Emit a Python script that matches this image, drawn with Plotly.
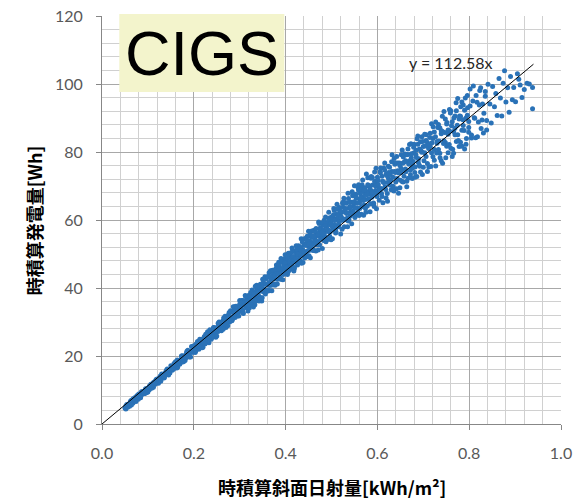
import plotly.graph_objects as go

# Hourly tilted-plane irradiation [kWh/m2] vs hourly generated energy [Wh], CIGS module
irr_low = [
    0.050, 0.052, 0.054, 0.056, 0.058, 0.060, 0.062, 0.064, 0.066, 0.068,
    0.070, 0.072, 0.074, 0.076, 0.078, 0.080, 0.082, 0.084, 0.086, 0.088,
    0.090, 0.093, 0.095, 0.098, 0.100, 0.103, 0.105, 0.108, 0.110, 0.113,
    0.115, 0.118, 0.120, 0.123, 0.125, 0.128, 0.130, 0.133, 0.135, 0.138,
    0.140, 0.143, 0.145, 0.148, 0.150, 0.153, 0.155, 0.158, 0.160, 0.163,
    0.165, 0.168, 0.170, 0.173, 0.175, 0.178, 0.180, 0.183, 0.185, 0.188,
    0.190, 0.193, 0.195, 0.198, 0.200, 0.203, 0.205, 0.208, 0.210, 0.213,
    0.215, 0.218, 0.220, 0.223, 0.225, 0.228, 0.230, 0.233, 0.235, 0.238,
    0.240, 0.243, 0.245, 0.248, 0.250, 0.253, 0.255, 0.258, 0.260, 0.263,
    0.265, 0.268, 0.270, 0.273, 0.275, 0.278, 0.280, 0.285, 0.290, 0.295,
]
gen_low = [
    4.7, 4.4, 5.7, 5.2, 5.9, 5.2, 6.7, 6.2, 6.9, 6.3,
    7.1, 7.8, 6.6, 7.7, 8.4, 7.7, 8.6, 7.7, 9.5, 8.8,
    9.4, 9.0, 10.4, 10.0, 9.4, 11.1, 10.6, 11.8, 10.8, 11.9,
    11.6, 13.1, 12.5, 12.0, 13.6, 13.2, 14.7, 14.1, 13.5, 15.1,
    14.7, 15.8, 14.4, 16.0, 17.1, 15.8, 16.9, 16.6, 18.3, 17.5,
    16.8, 18.5, 17.8, 20.0, 18.9, 18.4, 20.1, 19.5, 21.4, 20.6,
    19.7, 21.4, 22.8, 21.1, 22.0, 21.0, 23.5, 22.6, 22.2, 24.9,
    24.0, 22.4, 23.8, 25.7, 23.7, 25.3, 27.1, 23.9, 25.6, 27.1,
    25.5, 28.4, 27.0, 25.5, 28.4, 27.3, 30.0, 28.8, 27.4, 30.3,
    29.0, 31.7, 28.4, 30.5, 31.9, 30.0, 33.3, 31.6, 33.3, 31.8,
]

irr_low_b = [
    0.061, 0.064, 0.067, 0.070, 0.073, 0.076, 0.079, 0.082, 0.085, 0.088,
    0.091, 0.094, 0.097, 0.100, 0.103, 0.106, 0.109, 0.112, 0.115, 0.118,
    0.121, 0.124, 0.127, 0.130, 0.133, 0.136, 0.139, 0.142, 0.145, 0.148,
    0.151, 0.154, 0.157, 0.160, 0.163, 0.166, 0.169, 0.172, 0.175, 0.178,
    0.181, 0.184, 0.187, 0.190, 0.193, 0.196, 0.199, 0.202, 0.205, 0.208,
    0.211, 0.214, 0.217, 0.220, 0.223, 0.226, 0.229, 0.232, 0.235, 0.238,
    0.241, 0.244, 0.247, 0.250, 0.253, 0.256, 0.259, 0.262, 0.265, 0.268,
    0.271, 0.274, 0.277, 0.280, 0.283, 0.286, 0.289, 0.292, 0.295, 0.298,
]
gen_low_b = [
    6.0, 7.0, 6.1, 7.4, 7.1, 8.3, 7.3, 8.4, 8.3, 9.5,
    9.0, 10.0, 9.2, 10.4, 10.1, 11.6, 11.3, 10.8, 12.5, 12.0,
    12.9, 12.5, 14.1, 13.4, 14.6, 13.7, 14.9, 16.2, 15.3, 15.0,
    16.5, 16.1, 17.8, 17.1, 16.5, 18.5, 17.6, 18.8, 20.1, 19.0,
    18.7, 20.3, 21.7, 20.4, 19.7, 21.5, 22.7, 21.3, 22.6, 24.3,
    22.0, 23.5, 24.9, 22.6, 24.2, 26.4, 24.3, 25.8, 27.7, 24.9,
    26.6, 28.1, 26.5, 25.9, 29.6, 28.1, 27.6, 29.9, 31.2, 29.1,
    30.7, 28.9, 32.8, 30.9, 30.4, 33.0, 34.5, 31.9, 33.6, 33.3,
]

irr_low_c = [
    0.052, 0.056, 0.060, 0.064, 0.068, 0.072, 0.076, 0.080, 0.084, 0.088,
    0.092, 0.096, 0.100, 0.104, 0.108, 0.112, 0.116, 0.120, 0.124, 0.128,
    0.132, 0.136, 0.140, 0.144, 0.148, 0.152, 0.156, 0.160, 0.164, 0.168,
    0.172, 0.176, 0.180, 0.184, 0.188, 0.192, 0.196, 0.200, 0.204, 0.208,
    0.212, 0.216, 0.220, 0.224, 0.228, 0.232, 0.236, 0.240, 0.244, 0.248,
    0.252, 0.256, 0.260, 0.264, 0.268, 0.272, 0.276, 0.280, 0.284, 0.288,
    0.292, 0.296, 0.300,
]
gen_low_c = [
    5.3, 4.9, 5.9, 5.6, 7.4, 6.9, 7.9, 8.8, 8.0, 9.3,
    9.0, 10.3, 10.1, 10.9, 10.5, 12.2, 12.0, 13.2, 13.1, 12.6,
    14.3, 14.1, 15.7, 14.7, 15.9, 16.8, 16.2, 17.4, 18.8, 17.8,
    19.0, 18.2, 19.6, 20.9, 20.0, 21.3, 21.1, 23.0, 21.4, 23.0,
    22.8, 24.7, 24.3, 23.5, 26.3, 25.2, 26.5, 25.6, 28.3, 27.3,
    27.2, 29.1, 28.8, 27.9, 30.8, 29.9, 32.1, 31.3, 30.7, 33.3,
    33.0, 32.5, 35.2,
]

irr_mid = [
    0.282, 0.284, 0.286, 0.288, 0.290, 0.292, 0.294, 0.296, 0.298, 0.300,
    0.302, 0.304, 0.306, 0.308, 0.310, 0.312, 0.314, 0.316, 0.318, 0.320,
    0.322, 0.324, 0.326, 0.328, 0.330, 0.332, 0.334, 0.336, 0.338, 0.340,
    0.342, 0.344, 0.346, 0.348, 0.350, 0.352, 0.354, 0.356, 0.358, 0.360,
    0.362, 0.364, 0.366, 0.368, 0.370, 0.372, 0.374, 0.376, 0.378, 0.380,
    0.382, 0.384, 0.386, 0.388, 0.390, 0.392, 0.394, 0.396, 0.398, 0.400,
    0.402, 0.404, 0.406, 0.408, 0.410, 0.412, 0.414, 0.416, 0.418, 0.420,
    0.422, 0.424, 0.426, 0.428, 0.430, 0.432, 0.434, 0.436, 0.438, 0.440,
    0.442, 0.444, 0.446, 0.448, 0.450, 0.452, 0.454, 0.456, 0.458, 0.460,
    0.462, 0.464, 0.466, 0.468, 0.470, 0.472, 0.474, 0.476, 0.478, 0.480,
    0.482, 0.484, 0.486, 0.488, 0.490, 0.492, 0.494, 0.496, 0.498, 0.500,
    0.502, 0.504, 0.506, 0.508, 0.510, 0.512, 0.514, 0.516, 0.518, 0.520,
    0.522, 0.524, 0.526, 0.528, 0.530, 0.532, 0.534, 0.536, 0.538, 0.540,
    0.542, 0.544, 0.546, 0.548, 0.550, 0.552, 0.554, 0.556, 0.558, 0.560,
    0.562, 0.564, 0.566, 0.568, 0.570, 0.572, 0.574, 0.576, 0.578, 0.580,
    0.582, 0.584, 0.586, 0.588, 0.590, 0.592, 0.594, 0.596, 0.598, 0.600,
]
gen_mid = [
    33.0, 31.0, 34.5, 32.7, 31.3, 34.6, 32.7, 34.2, 31.8, 36.3,
    34.5, 33.1, 36.3, 32.5, 35.1, 37.8, 34.7, 36.8, 33.2, 36.8,
    36.0, 38.7, 35.1, 37.9, 34.4, 37.8, 40.5, 36.8, 39.6, 38.1,
    36.2, 40.6, 39.1, 36.2, 42.6, 38.8, 41.2, 38.2, 42.7, 41.1,
    39.5, 44.5, 40.8, 43.0, 39.2, 42.8, 44.9, 41.2, 42.8, 46.8,
    41.2, 44.6, 46.5, 43.1, 48.7, 44.8, 42.4, 46.8, 48.6, 44.8,
    47.1, 44.0, 50.2, 46.3, 49.1, 45.5, 51.8, 48.0, 45.0, 50.7,
    47.6, 50.1, 46.8, 52.4, 49.4, 48.1, 54.5, 51.1, 47.5, 52.6,
    50.4, 54.6, 49.2, 53.0, 56.7, 51.1, 48.9, 55.0, 53.1, 51.4,
    57.0, 54.3, 50.9, 56.0, 53.7, 59.4, 52.7, 57.7, 55.1, 51.6,
    57.1, 59.9, 55.0, 53.6, 59.1, 57.1, 62.3, 55.2, 58.6, 60.9,
    54.5, 57.8, 62.8, 60.2, 56.5, 64.6, 59.9, 58.3, 62.7, 55.9,
    62.3, 60.0, 65.4, 58.0, 62.3, 64.9, 60.5, 67.9, 60.1, 64.0,
    62.5, 58.9, 67.1, 64.0, 70.1, 61.3, 66.4, 63.5, 69.4, 61.3,
    66.2, 68.7, 63.9, 71.8, 61.4, 68.0, 66.0, 73.5, 64.1, 70.1,
    67.6, 62.4, 72.3, 66.7, 70.3, 64.8, 74.1, 68.7, 63.3, 72.6,
]

irr_mid_b = [
    0.301, 0.303, 0.305, 0.307, 0.309, 0.311, 0.313, 0.315, 0.317, 0.319,
    0.321, 0.323, 0.325, 0.327, 0.329, 0.331, 0.333, 0.335, 0.337, 0.339,
    0.341, 0.343, 0.345, 0.347, 0.349, 0.351, 0.353, 0.355, 0.357, 0.359,
    0.361, 0.363, 0.365, 0.367, 0.369, 0.371, 0.373, 0.375, 0.377, 0.379,
    0.381, 0.383, 0.385, 0.387, 0.389, 0.391, 0.393, 0.395, 0.397, 0.399,
    0.401, 0.403, 0.405, 0.407, 0.409, 0.411, 0.413, 0.415, 0.417, 0.419,
    0.421, 0.423, 0.425, 0.427, 0.429, 0.431, 0.433, 0.435, 0.437, 0.439,
    0.441, 0.443, 0.445, 0.447, 0.449, 0.451, 0.453, 0.455, 0.457, 0.459,
    0.461, 0.463, 0.465, 0.467, 0.469, 0.471, 0.473, 0.475, 0.477, 0.479,
    0.481, 0.483, 0.485, 0.487, 0.489, 0.491, 0.493, 0.495, 0.497, 0.499,
    0.501, 0.503, 0.505, 0.507, 0.509, 0.511, 0.513, 0.515, 0.517, 0.519,
    0.521, 0.523, 0.525, 0.527, 0.529, 0.531, 0.533, 0.535, 0.537, 0.539,
    0.541, 0.543, 0.545, 0.547, 0.549, 0.551, 0.553, 0.555, 0.557, 0.559,
    0.561, 0.563, 0.565, 0.567, 0.569, 0.571, 0.573, 0.575, 0.577, 0.579,
    0.581, 0.583, 0.585, 0.587, 0.589, 0.591, 0.593, 0.595, 0.597, 0.599,
]
gen_mid_b = [
    34.8, 33.5, 36.3, 32.9, 36.2, 34.9, 37.6, 34.2, 36.2, 37.8,
    34.1, 37.5, 36.1, 39.4, 35.8, 38.9, 35.1, 38.3, 40.8, 37.4,
    39.7, 37.0, 41.1, 39.5, 37.1, 41.3, 39.4, 43.3, 41.1, 39.0,
    43.2, 41.1, 39.2, 45.1, 42.5, 40.9, 44.0, 42.7, 40.8, 45.7,
    44.4, 42.7, 47.6, 45.8, 42.6, 44.8, 47.6, 44.0, 46.4, 49.8,
    45.4, 48.0, 44.6, 49.5, 47.5, 46.0, 48.8, 50.7, 47.7, 45.7,
    49.3, 52.4, 48.3, 50.8, 47.5, 52.1, 50.0, 47.3, 51.3, 54.4,
    50.7, 52.9, 49.9, 55.2, 52.4, 49.5, 53.8, 51.8, 56.8, 54.9,
    51.0, 53.7, 56.4, 52.7, 55.3, 51.2, 59.0, 56.8, 54.6, 55.9,
    58.6, 54.0, 56.5, 60.9, 58.1, 54.3, 56.6, 60.6, 58.7, 54.2,
    57.0, 60.4, 63.4, 58.7, 56.2, 61.7, 60.1, 58.0, 63.7, 61.5,
    59.9, 57.3, 63.8, 66.4, 60.1, 63.4, 61.9, 58.0, 66.3, 63.5,
    61.2, 65.2, 68.3, 62.6, 65.0, 60.7, 67.6, 65.0, 62.3, 70.4,
    65.0, 67.7, 61.7, 69.8, 66.8, 64.4, 69.5, 62.3, 68.4, 72.4,
    66.2, 70.1, 64.8, 68.5, 72.5, 67.7, 64.0, 70.7, 75.2, 66.9,
]

irr_mid_c = [
    0.3015, 0.3040, 0.3065, 0.3090, 0.3115, 0.3140, 0.3165, 0.3190, 0.3215, 0.3240,
    0.3265, 0.3290, 0.3315, 0.3340, 0.3365, 0.3390, 0.3415, 0.3440, 0.3465, 0.3490,
    0.3515, 0.3540, 0.3565, 0.3590, 0.3615, 0.3640, 0.3665, 0.3690, 0.3715, 0.3740,
    0.3765, 0.3790, 0.3815, 0.3840, 0.3865, 0.3890, 0.3915, 0.3940, 0.3965, 0.3990,
    0.4015, 0.4040, 0.4065, 0.4090, 0.4115, 0.4140, 0.4165, 0.4190, 0.4215, 0.4240,
    0.4265, 0.4290, 0.4315, 0.4340, 0.4365, 0.4390, 0.4415, 0.4440, 0.4465, 0.4490,
    0.4515, 0.4540, 0.4565, 0.4590, 0.4615, 0.4640, 0.4665, 0.4690, 0.4715, 0.4740,
    0.4765, 0.4790, 0.4815, 0.4840, 0.4865, 0.4890, 0.4915, 0.4940, 0.4965, 0.4990,
    0.5015, 0.5040, 0.5065, 0.5090, 0.5115, 0.5140, 0.5165, 0.5190, 0.5215, 0.5240,
    0.5265, 0.5290, 0.5315, 0.5340, 0.5365, 0.5390, 0.5415, 0.5440, 0.5465, 0.5490,
    0.5515, 0.5540, 0.5565, 0.5590, 0.5615, 0.5640, 0.5665, 0.5690, 0.5715, 0.5740,
    0.5765, 0.5790, 0.5815, 0.5840, 0.5865, 0.5890, 0.5915, 0.5940, 0.5965, 0.5990,
    0.6015, 0.6040, 0.6065, 0.6090, 0.6115, 0.6140, 0.6165, 0.6190, 0.6215, 0.6240,
    0.6265, 0.6290, 0.6315, 0.6340, 0.6365, 0.6390, 0.6415, 0.6440, 0.6465, 0.6490,
]
gen_mid_c = [
    34.2, 35.8, 33.6, 35.6, 34.9, 37.5, 36.1, 34.9, 37.5, 36.6,
    38.7, 36.4, 38.2, 36.1, 40.2, 38.6, 37.6, 40.2, 37.1, 40.0,
    41.6, 39.6, 41.2, 39.2, 43.4, 41.6, 40.8, 43.3, 45.2, 41.1,
    43.6, 45.5, 42.6, 44.1, 45.5, 42.7, 47.7, 45.8, 44.8, 47.5,
    46.1, 48.6, 45.1, 47.7, 50.4, 46.9, 49.3, 46.0, 48.5, 51.4,
    49.9, 48.0, 51.5, 49.6, 53.5, 50.9, 48.8, 52.6, 54.1, 51.0,
    53.0, 55.8, 52.4, 51.1, 55.3, 54.0, 57.5, 53.0, 55.8, 57.4,
    54.4, 56.3, 59.3, 55.8, 58.3, 54.3, 57.3, 60.0, 56.5, 59.2,
    58.1, 61.5, 59.9, 57.4, 63.2, 61.2, 59.4, 62.5, 60.9, 65.0,
    60.3, 63.1, 65.1, 62.1, 59.7, 65.3, 63.8, 61.7, 67.7, 65.4,
    63.5, 66.6, 65.0, 68.7, 63.4, 66.5, 70.4, 65.7, 68.7, 63.4,
    67.4, 70.4, 66.1, 69.2, 72.8, 68.2, 65.0, 71.4, 69.9, 67.7,
    71.6, 69.2, 73.9, 67.8, 71.4, 75.3, 69.8, 73.5, 67.8, 72.3,
    75.5, 71.7, 74.3, 69.9, 78.1, 74.0, 69.2, 76.8, 73.8, 76.0,
]

irr_high = [
    0.602, 0.604, 0.606, 0.608, 0.610, 0.612, 0.614, 0.616, 0.618, 0.620,
    0.622, 0.624, 0.626, 0.628, 0.630, 0.632, 0.634, 0.636, 0.638, 0.640,
    0.642, 0.644, 0.646, 0.648, 0.650, 0.652, 0.654, 0.656, 0.658, 0.660,
    0.662, 0.664, 0.666, 0.668, 0.670, 0.672, 0.674, 0.676, 0.678, 0.680,
    0.682, 0.684, 0.686, 0.688, 0.690, 0.692, 0.694, 0.696, 0.698, 0.700,
    0.703, 0.706, 0.709, 0.712, 0.715, 0.718, 0.721, 0.724, 0.727, 0.730,
    0.733, 0.736, 0.739, 0.742, 0.745, 0.748, 0.751, 0.754, 0.757, 0.760,
    0.763, 0.766, 0.769, 0.772, 0.775, 0.778, 0.781, 0.784, 0.787, 0.790,
    0.793, 0.796, 0.799,
]
gen_high = [
    70.4, 65.8, 74.2, 69.3, 72.9, 65.1, 71.0, 76.8, 69.0, 73.1,
    65.5, 75.8, 70.7, 73.4, 68.9, 79.2, 72.6, 68.5, 76.4, 71.2,
    78.7, 74.5, 67.9, 76.8, 71.7, 74.0, 80.6, 71.2, 77.0, 79.4,
    74.2, 69.8, 79.3, 76.7, 82.2, 73.3, 78.3, 72.2, 77.2, 82.3,
    75.6, 80.5, 72.8, 84.7, 78.0, 75.8, 83.0, 80.2, 73.4, 81.6,
    85.2, 78.7, 82.8, 75.6, 81.6, 88.3, 78.6, 85.9, 75.9, 82.6,
    88.1, 79.6, 85.4, 76.7, 91.9, 82.8, 88.2, 79.8, 86.2, 92.1,
    78.7, 86.0, 90.6, 83.1, 95.7, 81.6, 90.5, 86.4, 93.8, 80.9,
    90.0, 96.6, 85.8,
]

irr_high_b = [
    0.601, 0.604, 0.607, 0.610, 0.613, 0.616, 0.619, 0.622, 0.625, 0.628,
    0.631, 0.634, 0.637, 0.640, 0.643, 0.646, 0.649, 0.652, 0.655, 0.658,
    0.661, 0.664, 0.667, 0.670, 0.673, 0.676, 0.679, 0.682, 0.685, 0.688,
    0.691, 0.694, 0.697, 0.700, 0.703, 0.706, 0.709, 0.712, 0.715, 0.718,
    0.721, 0.724, 0.727, 0.730, 0.733, 0.736, 0.739, 0.742, 0.745, 0.748,
    0.751, 0.754, 0.757, 0.760, 0.763, 0.766, 0.769, 0.772, 0.775, 0.778,
    0.781, 0.784, 0.787, 0.790, 0.793, 0.796, 0.799, 0.802, 0.805, 0.808,
    0.811, 0.814, 0.817, 0.820, 0.823, 0.826, 0.829, 0.832, 0.835, 0.838,
]
gen_high_b = [
    71.7, 68.5, 75.3, 66.9, 71.2, 74.7, 66.5, 71.0, 74.0, 70.2,
    77.1, 69.0, 74.3, 76.8, 72.2, 74.3, 69.5, 79.2, 76.7, 72.9,
    75.0, 79.2, 72.3, 77.4, 82.4, 75.2, 79.7, 72.6, 78.4, 82.3,
    76.2, 80.5, 84.5, 75.5, 79.8, 83.4, 74.3, 82.1, 85.5, 79.8,
    84.0, 77.6, 88.8, 83.1, 80.7, 87.1, 77.4, 86.0, 83.3, 89.7,
    81.7, 86.5, 92.5, 81.1, 88.9, 79.6, 87.0, 92.1, 85.1, 89.7,
    82.9, 94.7, 87.8, 92.3, 82.3, 90.8, 87.2, 98.5, 85.0, 95.0,
    90.1, 84.2, 94.6, 88.8, 98.1, 86.9, 94.1, 91.4, 97.8, 86.5,
]

irr_high_c = [
    0.6515, 0.6540, 0.6565, 0.6590, 0.6615, 0.6640, 0.6665, 0.6690, 0.6715, 0.6740,
    0.6765, 0.6790, 0.6815, 0.6840, 0.6865, 0.6890, 0.6915, 0.6940, 0.6965, 0.6990,
    0.7015, 0.7040, 0.7065, 0.7090, 0.7115, 0.7140, 0.7165, 0.7190, 0.7215, 0.7240,
    0.7265, 0.7290, 0.7315, 0.7340, 0.7365, 0.7390, 0.7415, 0.7440, 0.7465, 0.7490,
    0.7515, 0.7540, 0.7565, 0.7590, 0.7615, 0.7640, 0.7665, 0.7690, 0.7715, 0.7740,
    0.7765, 0.7790, 0.7815, 0.7840, 0.7865, 0.7890, 0.7915, 0.7940, 0.7965, 0.7990,
]
gen_high_c = [
    75.2, 71.3, 78.5, 74.6, 77.4, 71.4, 80.9, 76.4, 74.6, 79.5,
    76.4, 81.4, 74.0, 79.2, 83.9, 77.0, 80.9, 74.1, 79.9, 83.1,
    77.4, 81.8, 85.1, 76.6, 81.0, 84.3, 75.7, 82.7, 87.4, 80.7,
    84.5, 79.7, 87.2, 83.2, 78.3, 86.3, 90.5, 82.5, 85.7, 78.3,
    88.7, 85.2, 82.2, 91.5, 87.7, 80.8, 90.0, 85.1, 94.5, 87.9,
    83.4, 90.6, 93.3, 81.7, 89.5, 86.3, 95.9, 84.0, 93.0, 89.0,
]

irr_peak = [
    0.802, 0.805, 0.809, 0.812, 0.815, 0.818, 0.822, 0.825, 0.828, 0.831,
    0.835, 0.838, 0.841, 0.845, 0.848, 0.851, 0.855, 0.858, 0.861, 0.865,
    0.868, 0.871, 0.874, 0.877, 0.880, 0.884, 0.887, 0.890, 0.894, 0.897,
    0.901, 0.905, 0.908, 0.911, 0.915, 0.920, 0.926, 0.931, 0.938, 0.938,
]
gen_peak = [
    93.5, 84.1, 99.4, 89.9, 96.6, 84.5, 93.8, 98.9, 89.4, 85.6,
    96.4, 89.3, 99.9, 94.1, 88.5, 99.3, 93.3, 97.2, 90.7, 101.6,
    95.9, 90.6, 100.2, 103.9, 94.7, 98.9, 91.7, 102.2, 95.4, 99.0,
    94.8, 103.0, 101.4, 99.7, 96.0, 98.4, 100.2, 100.0, 99.0, 92.7,
]

# Linear trendline through the origin
slope = 112.58
trend_x = [0.0, 0.94]

x_ticks = [0.0, 0.2, 0.4, 0.6, 0.8, 1.0]
y_ticks = [0, 20, 40, 60, 80, 100, 120]

x_title = "時積算斜面日射量[kWh/m²]"
y_title = "時積算発電量[Wh]"

irradiance = (irr_low + irr_low_b + irr_low_c + irr_mid + irr_mid_b + irr_mid_c
              + irr_high + irr_high_b + irr_high_c + irr_peak)
energy = (gen_low + gen_low_b + gen_low_c + gen_mid + gen_mid_b + gen_mid_c
          + gen_high + gen_high_b + gen_high_c + gen_peak)

POINT_COLOR = "#2A72B7"
TICK_FONT = dict(family="Lato, 'Open Sans', sans-serif", size=16, color="#595959")
TITLE_FONT = dict(family="'Noto Sans CJK JP', sans-serif", size=18, color="#000000")

fig = go.Figure()
fig.add_trace(go.Scatter(
    x=irradiance, y=energy, mode="markers",
    marker=dict(size=5, color=POINT_COLOR, line=dict(width=0)),
    hoverinfo="x+y", showlegend=False,
))
fig.add_trace(go.Scatter(
    x=trend_x, y=[slope * v for v in trend_x], mode="lines",
    line=dict(color="#000000", width=1), hoverinfo="skip", showlegend=False,
))

axis_common = dict(
    showgrid=True, gridcolor="#A8A8A8", gridwidth=1,
    showline=True, linecolor="#878787", linewidth=1,
    ticks="outside", ticklen=5, tickcolor="#878787",
    tickfont=TICK_FONT, zeroline=False, automargin=False,
)

fig.update_xaxes(
    range=[0, 1.0], tickvals=x_ticks, tickformat=".1f",
    minor=dict(dtick=0.04, showgrid=True, gridcolor="#D0D0D0", gridwidth=1, ticks=""),
    ticklabelstandoff=10,
    **axis_common,
)
fig.update_yaxes(
    range=[0, 120], tickvals=y_ticks,
    minor=dict(dtick=4, showgrid=True, gridcolor="#D0D0D0", gridwidth=1, ticks=""),
    ticklabelstandoff=10,
    **axis_common,
)

# Axis titles
fig.add_annotation(
    xref="paper", yref="paper", x=0.5, y=-0.1544,
    text=f"<b>{x_title}</b>", showarrow=False,
    xanchor="center", yanchor="middle", font=TITLE_FONT,
)
fig.add_annotation(
    xref="paper", yref="paper", x=-0.1475, y=0.5,
    text=f"<b>{y_title}</b>", showarrow=False, textangle=-90,
    xanchor="center", yanchor="middle", font=TITLE_FONT,
)

# Panel label box
fig.add_shape(
    type="rect", xref="paper", yref="paper",
    x0=0.0377, x1=0.3972, y0=0.8137, y1=1.005,
    fillcolor="#F3F4CC", line=dict(width=0), layer="above",
)
fig.add_annotation(
    xref="paper", yref="paper", x=0.2176, y=0.9093,
    text="CIGS", showarrow=False, xanchor="center", yanchor="middle",
    font=dict(family="'Liberation Sans', Arial, sans-serif", size=63, color="#000000"),
)
# Trendline equation
fig.add_annotation(
    x=0.7606, y=106.2, text=f"y = {slope}x", showarrow=False,
    xanchor="center", yanchor="middle",
    font=dict(family="Lato, 'Open Sans', sans-serif", size=16, color="#262626"),
)

fig.update_layout(
    width=579, height=499,
    margin=dict(l=102, r=18, t=16, b=75),
    paper_bgcolor="#FFFFFF", plot_bgcolor="#FFFFFF",
    showlegend=False,
)

fig.write_html("out.html")
